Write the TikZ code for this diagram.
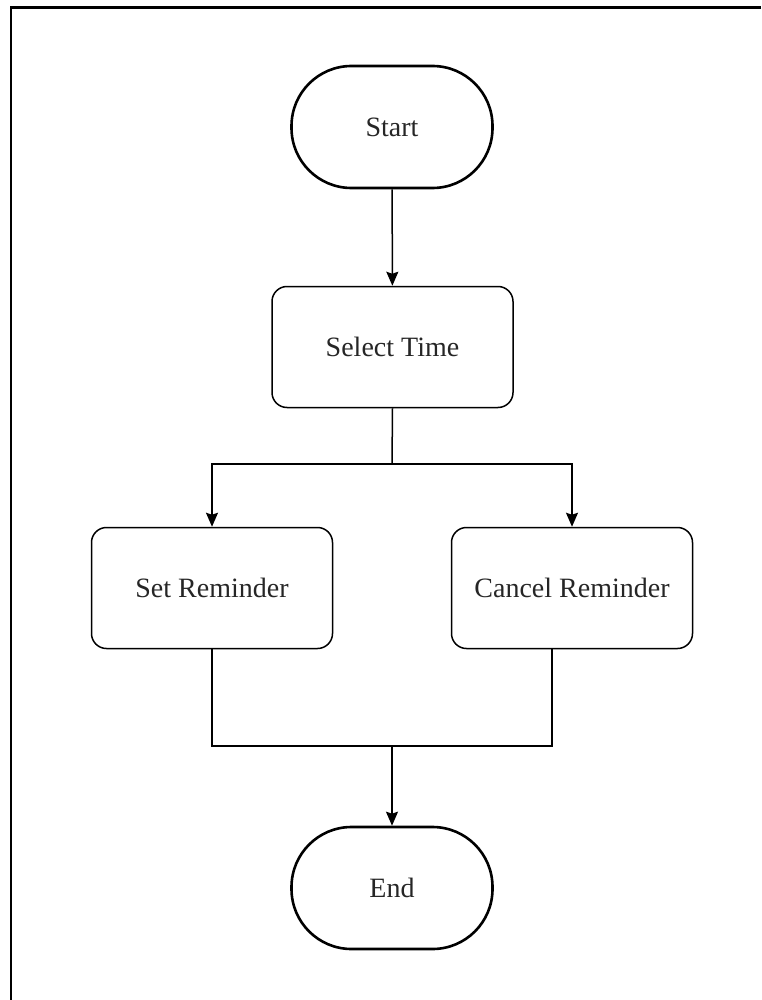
\documentclass[tikz,border=0pt]{standalone}
\usepackage{fontspec}
\setmainfont{Liberation Serif}
\usetikzlibrary{arrows.meta}
\begin{document}
\begin{tikzpicture}[x=1pt,y=-1pt,
  every node/.style={font=\fontsize{28}{32}\selectfont, text=black!85},
  terminal/.style={draw, line width=2.6pt, rounded corners=60pt,
    minimum width=201pt, minimum height=122pt, inner sep=0pt},
  process/.style={draw, line width=1.5pt, rounded corners=15pt,
    minimum width=241pt, minimum height=121pt, inner sep=0pt},
  link/.style={line width=1.5pt},
  arr/.style={link, -{Stealth[length=14pt, width=12pt, inset=2pt]}}]
\useasboundingbox (0,0) rectangle (761,1000);
% frame lines along the top and the left side
\draw[line width=2.8pt] (761,7.5) -- (11,7.5) -- (11,1000);

% nodes
\node[terminal] (start)  at (392,127)   {Start};
\node[process]  (select) at (392.5,347) {Select Time};
\node[process]  (set)    at (212,588)   {Set Reminder};
\node[process]  (cancel) at (572,588)   {Cancel Reminder};
\node[terminal] (end)    at (392,888)   {End};

% branch and merge points
\coordinate (split) at (392,464);
\coordinate (merge) at (392,746);
\coordinate (cancelout) at ([xshift=-20pt]cancel.south);

% connectors
\draw[arr]  (start) -- (select);
\draw[link] (select.south) -- (split);
\draw[arr]  (split) -| (set.north);
\draw[arr]  (split) -| (cancel.north);
\draw[link] (set.south) |- (merge);
\draw[link] (cancelout) |- (merge);
\draw[arr]  (merge) -- (end.north);
\end{tikzpicture}
\end{document}
